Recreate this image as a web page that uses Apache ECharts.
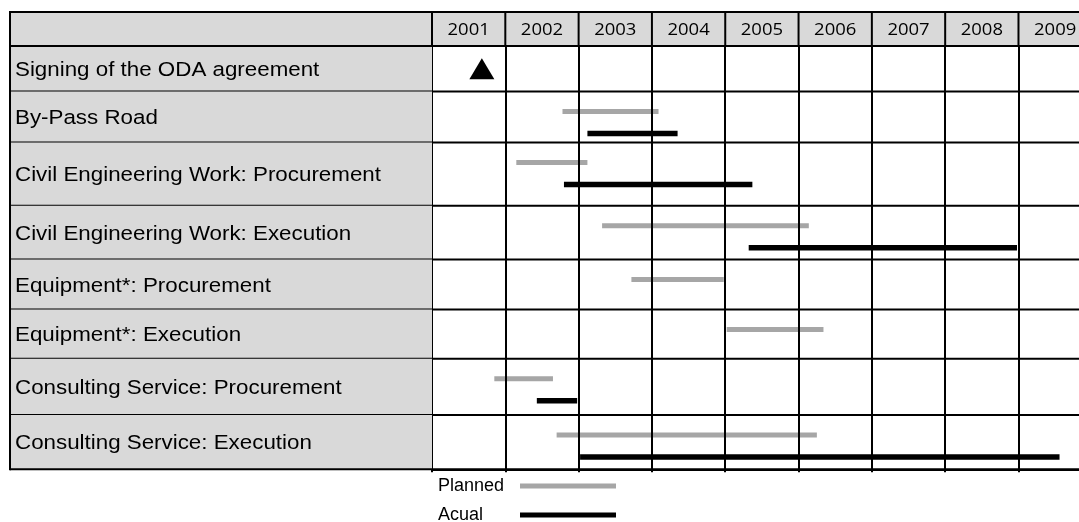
<!DOCTYPE html>
<html><head><meta charset="utf-8">
<script src="https://cdn.jsdelivr.net/npm/echarts@6/dist/echarts.min.js"></script>
<style>html,body{margin:0;padding:0;background:#fff}#chart{width:1079px;height:522px}</style>
</head><body><div id="chart"></div>
<script>
// ---------- data ----------
const yearLabels = ['2001','2002','2003','2004','2005','2006','2007','2008','2009'];
const activities = [
  'Signing of the ODA agreement',
  'By-Pass Road',
  'Civil Engineering Work: Procurement',
  'Civil Engineering Work: Execution',
  'Equipment*: Procurement',
  'Equipment*: Execution',
  'Consulting Service: Procurement',
  'Consulting Service: Execution'
];
const milestoneRow = 0;
const milestoneDate = 2001.68;
const plannedStart = [null, 2002.78, 2002.15, 2003.32, 2003.72, 2005.02, 2001.85, 2002.70];
const plannedEnd   = [null, 2004.09, 2003.12, 2006.14, 2004.98, 2006.34, 2002.65, 2006.25];
const actualStart  = [null, 2003.12, 2002.80, 2005.32, null,    null,    2002.43, 2003.02];
const actualEnd    = [null, 2004.35, 2005.37, 2008.98, null,    null,    2002.98, 2009.56];
const legendNames = ['Planned', 'Acual'];

// ---------- layout ----------
const W = 1079;
const TABLE_LEFT = 10, TABLE_TOP = 12, HEADER_H = 34, LABEL_COL_RIGHT = 432, COL_W = 73.31;
const rowHeights = [45.5, 51, 63.2, 53.8, 50, 49.2, 56.3, 54.3];
const PLAN_OFFSET = 20, ACT_OFFSET = 42, BAR_H = 5;
const GRAY = '#d9d9d9', BAR_GRAY = '#a6a6a6', LINE = '#000';
const LEGEND_FONT = '18px "Liberation Sans"', LEGEND_TEXT_BOX = 77;

const rowTop = [0];
rowHeights.forEach((h, i) => rowTop.push(rowTop[i] + h));
const totalH = rowTop[rowTop.length - 1];
const xMin = Number(yearLabels[0]);
const xMax = xMin + yearLabels.length;

const measureCtx = document.createElement('canvas').getContext('2d');
measureCtx.font = LEGEND_FONT;
function textW(t) { return measureCtx.measureText(t).width; }

function barSeries(name, starts, ends, offset, color, height) {
  const data = [];
  starts.forEach((s, i) => { if (s != null) data.push([s, ends[i], rowTop[i] + offset]); });
  return {
    name, type: 'custom', coordinateSystem: 'cartesian2d', z: 2, silent: true,
    itemStyle: { color },
    encode: { x: [0, 1], y: 2 },
    data,
    renderItem(params, api) {
      const p1 = api.coord([api.value(0), api.value(2)]);
      const p2 = api.coord([api.value(1), api.value(2)]);
      return { type: 'rect', shape: { x: p1[0], y: p1[1] - height / 2, width: p2[0] - p1[0], height },
               style: { fill: color } };
    }
  };
}

const chart = echarts.init(document.getElementById('chart'), null, { renderer: 'canvas' });
chart.setOption({
  animation: false,
  backgroundColor: '#fff',
  grid: { left: LABEL_COL_RIGHT, top: TABLE_TOP + HEADER_H, width: COL_W * yearLabels.length, height: totalH,
          show: false, containLabel: false, outerBoundsMode: 'none' },
  xAxis: {
    type: 'value', min: xMin, max: xMax, interval: 1, position: 'bottom', z: 5,
    axisLine: { show: true, onZero: false, lineStyle: { color: LINE, width: 2 } },
    axisTick: { show: true, length: 3, lineStyle: { color: LINE, width: 2 } },
    axisLabel: { show: false },
    splitLine: { show: true, showMinLine: true, showMaxLine: true, lineStyle: { color: LINE, width: 2 } }
  },
  yAxis: { type: 'value', inverse: true, min: 0, max: totalH, show: false, splitLine: { show: false } },
  legend: {
    data: legendNames.map((n, i) => ({
      name: n, icon: 'rect',
      itemStyle: { color: i === 0 ? BAR_GRAY : LINE, borderWidth: 0 },
      textStyle: { padding: [0, Math.max(0, LEGEND_TEXT_BOX - textW(n)), 0, 0] }
    })),
    orient: 'vertical', align: 'right', left: 438, top: 476, width: 200, height: 80, padding: 0, itemGap: 9,
    itemWidth: 96, itemHeight: 5, selectedMode: false,
    textStyle: { color: '#000', fontFamily: 'Liberation Sans', fontSize: 18, lineHeight: 20 }
  },
  graphic: [
    { type: 'rect', z: 0, silent: true, shape: { x: TABLE_LEFT, y: TABLE_TOP, width: W - TABLE_LEFT, height: HEADER_H }, style: { fill: GRAY } },
    { type: 'line', z: 10, silent: true, shape: { x1: TABLE_LEFT, y1: TABLE_TOP, x2: W, y2: TABLE_TOP }, style: { stroke: LINE, lineWidth: 2 } },
    { type: 'line', z: 10, silent: true, shape: { x1: TABLE_LEFT, y1: TABLE_TOP + HEADER_H, x2: W, y2: TABLE_TOP + HEADER_H }, style: { stroke: LINE, lineWidth: 2 } },
    { type: 'line', z: 10, silent: true, shape: { x1: TABLE_LEFT, y1: TABLE_TOP - 1, x2: TABLE_LEFT, y2: TABLE_TOP + HEADER_H + totalH + 1 }, style: { stroke: LINE, lineWidth: 2 } }
  ],
  series: [
    { // header year cells
      name: 'header', type: 'custom', coordinateSystem: 'cartesian2d', z: 6, silent: true,
      encode: { x: 0, y: 1 },
      data: yearLabels.map((t, i) => [Number(t), 0, i]),
      renderItem(params, api) {
        const y0 = api.value(0);
        const a = api.coord([y0, 0]);
        const b = api.coord([y0 + 1, 0]);
        const top = a[1] - HEADER_H;
        return { type: 'group', children: [
          { type: 'line', shape: { x1: a[0], y1: top, x2: a[0], y2: a[1] }, style: { stroke: LINE, lineWidth: 2 } },
          { type: 'text', x: (a[0] + b[0]) / 2, y: top + HEADER_H / 2 + 1, scaleX: 1.12,
            style: { text: yearLabels[api.value(2)], fill: '#000', font: '16.5px "Open Sans"', align: 'center', verticalAlign: 'middle' } }
        ] };
      }
    },
    { // row label cells + row lines
      name: 'table', type: 'custom', coordinateSystem: 'cartesian2d', z: 6, silent: true,
      encode: { x: 0, y: [1, 2] },
      data: activities.map((a, i) => [xMin, rowTop[i], rowTop[i + 1], i]),
      renderItem(params, api) {
        const cs = params.coordSys;
        const t = api.coord([api.value(0), api.value(1)])[1];
        const b = api.coord([api.value(0), api.value(2)])[1];
        return { type: 'group', children: [
          { type: 'rect', shape: { x: TABLE_LEFT, y: t, width: cs.x - TABLE_LEFT, height: b - t }, style: { fill: GRAY } },
          { type: 'line', shape: { x1: TABLE_LEFT, y1: b, x2: W, y2: b }, style: { stroke: LINE, lineWidth: 2 } },
          { type: 'text', x: TABLE_LEFT + 5, y: (t + b) / 2 + 1.5, scaleX: 1.09,
            style: { text: activities[api.value(3)], fill: '#000', font: '20.5px "Liberation Sans"', align: 'left', verticalAlign: 'middle' } }
        ] };
      }
    },
    barSeries(legendNames[0], plannedStart, plannedEnd, PLAN_OFFSET, BAR_GRAY, BAR_H),
    barSeries(legendNames[1], actualStart, actualEnd, ACT_OFFSET, LINE, 5.5),
    {
      name: 'Signing', type: 'scatter', z: 3, silent: true,
      symbol: 'triangle', symbolSize: [25, 21],
      itemStyle: { color: '#000', opacity: 1, borderWidth: 0 },
      data: [[milestoneDate, rowTop[milestoneRow] + rowHeights[milestoneRow] / 2]]
    }
  ]
});
</script></body></html>
